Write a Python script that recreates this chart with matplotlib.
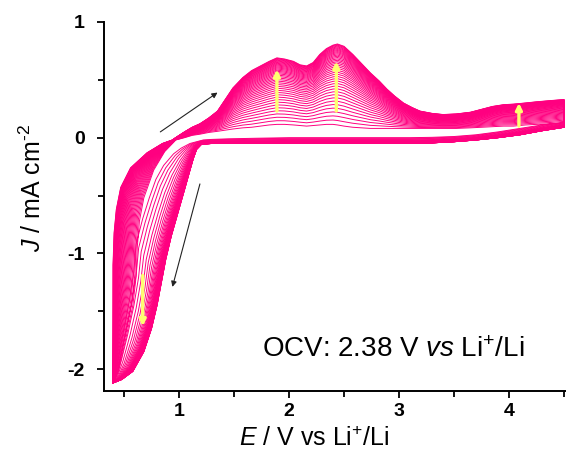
import numpy as np
import matplotlib
matplotlib.use("Agg")
import matplotlib.pyplot as plt

plt.rcParams['font.family'] = ['Liberation Sans', 'DejaVu Sans']
plt.rcParams['mathtext.fontset'] = 'custom'
plt.rcParams['mathtext.rm'] = 'Liberation Sans'
plt.rcParams['mathtext.it'] = 'Liberation Sans:italic'
plt.rcParams['mathtext.bf'] = 'Liberation Sans:bold'
plt.rcParams['axes.unicode_minus'] = False

# ---- data (first and last cycle of each branch) ----
# anodic sweep, start at lower vertex (parametric x, y)
an_low_first_x = [0.40, 0.45, 0.52, 0.58, 0.61, 0.62, 0.64, 0.68, 0.77, 0.87, 0.94]
an_low_first_y = [-2.12, -2.02, -1.72, -1.45, -1.20, -0.95, -0.72, -0.52, -0.28, -0.12, -0.05]
an_low_last_x = [0.40, 0.40, 0.40, 0.40, 0.41, 0.43, 0.47, 0.56, 0.71, 0.85, 0.94]
an_low_last_y = [-2.12, -1.80, -1.45, -1.10, -0.82, -0.62, -0.43, -0.26, -0.13, -0.05, -0.02]

# anodic sweep, main part
an_x = [0.97, 1.05, 1.12, 1.19, 1.27, 1.35, 1.42, 1.49, 1.58, 1.66, 1.74, 1.82, 1.89,
        1.96, 2.04, 2.10, 2.16, 2.22, 2.28, 2.34, 2.40, 2.44, 2.50, 2.58, 2.66, 2.74,
        2.82, 2.89, 2.96, 3.04, 3.12, 3.19, 3.30, 3.40, 3.52, 3.65, 3.75, 3.85, 3.95,
        4.04, 4.15, 4.25, 4.37, 4.50]
an_first_y = [-0.02, 0.00, 0.02, 0.03, 0.045, 0.055, 0.065, 0.075, 0.085, 0.09, 0.10, 0.11, 0.115,
              0.115, 0.11, 0.105, 0.10, 0.105, 0.11, 0.115, 0.115, 0.11, 0.10, 0.09, 0.085, 0.08,
              0.08, 0.08, 0.08, 0.08, 0.08, 0.08, 0.08, 0.08, 0.08, 0.085, 0.09, 0.095, 0.10,
              0.10, 0.11, 0.115, 0.12, 0.13]
an_last_y = [0.00, 0.05, 0.09, 0.12, 0.17, 0.23, 0.33, 0.43, 0.52, 0.58, 0.62, 0.66, 0.69,
             0.68, 0.66, 0.63, 0.62, 0.65, 0.72, 0.77, 0.80, 0.81, 0.79, 0.72, 0.64, 0.56,
             0.49, 0.42, 0.36, 0.30, 0.26, 0.23, 0.21, 0.20, 0.205, 0.22, 0.245, 0.27, 0.285,
             0.29, 0.30, 0.31, 0.32, 0.33]

# cathodic sweep, main part
ca_x = [4.50, 4.30, 4.10, 3.90, 3.70, 3.50, 3.30, 3.10, 2.90, 2.60, 2.30, 2.00, 1.70, 1.45, 1.30, 1.22]
ca_first_y = [0.13, 0.11, 0.08, 0.05, 0.025, 0.01, 0.003, 0.0, 0.0, 0.0, 0.0, 0.0, -0.005, -0.01, -0.015, -0.02]
ca_last_y = [0.09, 0.06, 0.025, 0.0, -0.02, -0.035, -0.045, -0.05, -0.05, -0.05, -0.05, -0.05, -0.05, -0.05, -0.05, -0.055]

# cathodic sweep, reduction part down to lower vertex (parametric x, y)
ca_low_first_x = [1.18, 1.10, 1.02, 0.95, 0.86, 0.79, 0.73, 0.67, 0.61, 0.59, 0.55, 0.50, 0.45, 0.42, 0.40]
ca_low_first_y = [-0.03, -0.05, -0.09, -0.14, -0.24, -0.36, -0.52, -0.70, -0.92, -1.15, -1.40, -1.65, -1.90, -2.06, -2.12]
ca_low_last_x = [1.20, 1.16, 1.13, 1.10, 1.05, 0.99, 0.93, 0.88, 0.84, 0.80, 0.75, 0.68, 0.58, 0.48, 0.40]
ca_low_last_y = [-0.06, -0.10, -0.18, -0.28, -0.45, -0.65, -0.85, -1.05, -1.25, -1.45, -1.65, -1.85, -2.02, -2.09, -2.12]

# progress of each cycle between first (0) and last (1), anodic and cathodic branches
anodic_progress = [0.000, 0.055, 0.107, 0.157, 0.205, 0.250, 0.293, 0.334, 0.373, 0.410,
                   0.446, 0.480, 0.512, 0.543, 0.572, 0.600, 0.627, 0.652, 0.676, 0.699,
                   0.721, 0.742, 0.762, 0.781, 0.799, 0.816, 0.833, 0.849, 0.864, 0.879,
                   0.893, 0.906, 0.919, 0.931, 0.943, 0.954, 0.965, 0.975, 0.985, 0.993, 1.000]
cathodic_progress = [0.000, 0.100, 0.200, 0.300, 0.400, 0.480, 0.550, 0.610, 0.660, 0.700,
                     0.735, 0.765, 0.790, 0.810, 0.830, 0.845, 0.860, 0.873, 0.885, 0.896,
                     0.906, 0.915, 0.924, 0.932, 0.940, 0.947, 0.954, 0.960, 0.966, 0.971,
                     0.976, 0.980, 0.984, 0.987, 0.990, 0.993, 0.995, 0.997, 0.998, 0.999, 1.000]

x_ticks = [1, 2, 3, 4]
y_ticks = [-2, -1, 0, 1]

PINK = '#FF0080'

fig = plt.figure(figsize=(5.66, 4.53), dpi=100)
ax = fig.add_axes([104/566, 1 - 391/453, 462/566, 369/453])

def mix(a, b, w):
    return (1 - w) * np.asarray(a, float) + w * np.asarray(b, float)

for wa, wc in zip(anodic_progress, cathodic_progress):
    xs = np.concatenate([mix(an_low_first_x, an_low_last_x, wa), an_x,
                         ca_x, mix(ca_low_first_x, ca_low_last_x, wc)])
    ys = np.concatenate([mix(an_low_first_y, an_low_last_y, wa), mix(an_first_y, an_last_y, wa),
                         mix(ca_first_y, ca_last_y, wc), mix(ca_low_first_y, ca_low_last_y, wc)])
    ax.plot(xs, ys, color=PINK, lw=0.7, solid_joinstyle='round')

# yellow arrows (trend with cycling)
yel = dict(arrowstyle='-|>', color='#FFFF70', lw=2.4, mutation_scale=9, shrinkA=0, shrinkB=0)
ax.annotate('', xy=(1.89, 0.59), xytext=(1.89, 0.23), arrowprops=yel)
ax.annotate('', xy=(2.43, 0.66), xytext=(2.43, 0.23), arrowprops=yel)
ax.annotate('', xy=(4.09, 0.30), xytext=(4.09, 0.10), arrowprops=yel)
ax.annotate('', xy=(0.67, -1.63), xytext=(0.67, -1.19), arrowprops=yel)

# black scan-direction arrows
blk = dict(arrowstyle='-|>', color='#222222', lw=0.8, mutation_scale=8, shrinkA=0, shrinkB=0)
ax.annotate('', xy=(1.35, 0.39), xytext=(0.83, 0.05), arrowprops=blk)
ax.annotate('', xy=(0.94, -1.29), xytext=(1.19, -0.40), arrowprops=blk)

ax.text(2.945, -1.90, r'OCV: 2.38 V $\mathit{vs}$ Li$^{+}$/Li', fontsize=20,
        ha='center', va='baseline')

ax.set_xlim(0.318, 4.518)
ax.set_ylim(-2.19, 1.0)
ax.set_xticks(x_ticks)
ax.set_yticks(y_ticks)
ax.set_xticks([0.5, 1.5, 2.5, 3.5, 4.5], minor=True)
ax.set_yticks([-1.5, -0.5, 0.5], minor=True)
ax.set_xticklabels([str(v) for v in x_ticks])
ax.set_yticklabels([str(v) for v in y_ticks])
for lab in ax.get_xticklabels() + ax.get_yticklabels():
    lab.set_fontweight('bold')
ax.tick_params(which='major', direction='out', length=5, width=1.3, labelsize=14)
ax.tick_params(which='minor', direction='out', length=4, width=1.3)
ax.tick_params(axis='y', which='major', pad=9)
ax.tick_params(axis='x', which='major', pad=4)

for s in ['top', 'right']:
    ax.spines[s].set_visible(False)
for s in ['left', 'bottom']:
    ax.spines[s].set_linewidth(1.4)

ax.set_xlabel(r'$\mathit{E}$ / V vs Li$^{+}$/Li', fontsize=18)
ax.set_ylabel('$\\mathit{J}$ / mA cm$^{\u20102}$', fontsize=18)
ax.xaxis.set_label_coords(0.455, -0.098)
ax.yaxis.set_label_coords(-0.125, 0.55)

fig.savefig('out.png', dpi=100)
